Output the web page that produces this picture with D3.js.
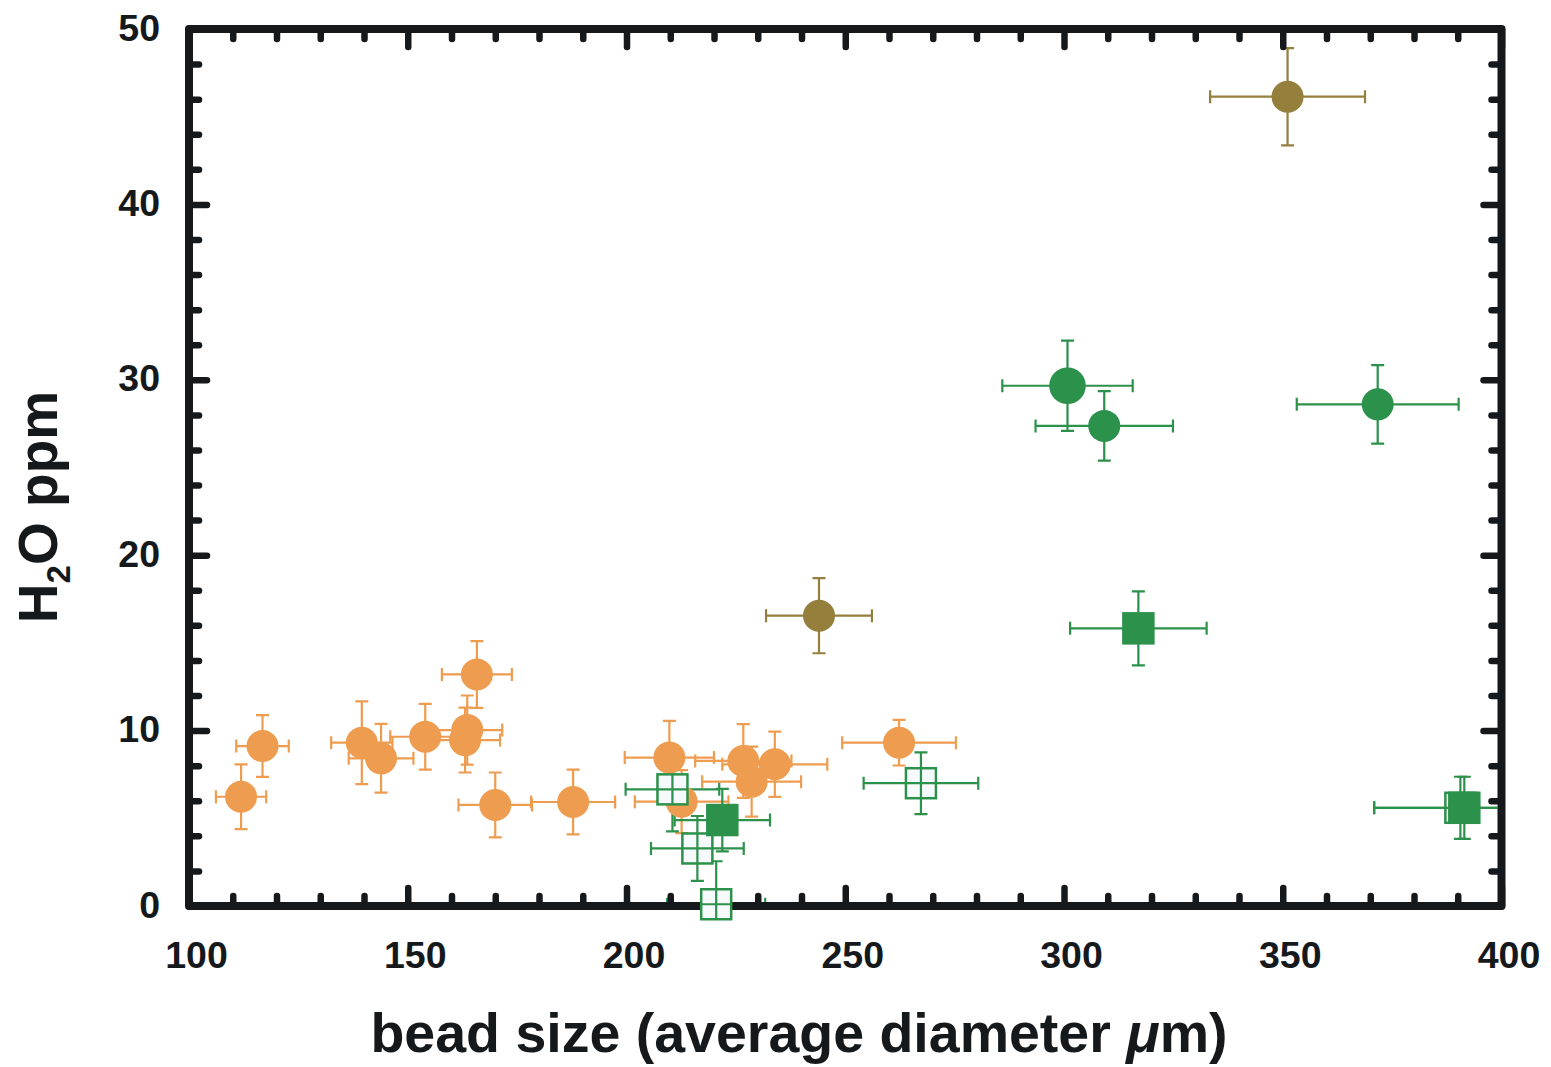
<!DOCTYPE html>
<html>
<head>
<meta charset="utf-8">
<script src="https://cdn.jsdelivr.net/npm/d3@7"></script>
<style>
  html, body { margin: 0; padding: 0; background: #ffffff; }
  svg { display: block; }
</style>
</head>
<body>
<svg id="chart" width="1551" height="1067"></svg>
<script>
// ---- data: bead size (µm) vs H2O (ppm), with ± errors ----
// orange circles
const orangeSize    = [165.8, 116.8, 111.9, 139.5, 143.9, 154.0, 163.6, 163.1, 170.0, 187.8, 209.8, 212.6, 226.7, 233.9, 228.6, 262.3];
const orangeH2O     = [13.2, 9.12, 6.23, 9.31, 8.42, 9.65, 10.03, 9.46, 5.76, 5.93, 8.46, 5.95, 8.27, 8.08, 7.09, 9.31];
const orangeSizeErr = [8.0, 6.0, 5.75, 7.0, 7.4, 8.0, 8.0, 8.0, 8.4, 9.6, 10.2, 10.7, 11.0, 12.0, 11.3, 13.0];
const orangeH2OErr  = [1.9, 1.76, 1.85, 2.36, 1.96, 1.87, 1.97, 1.85, 1.85, 1.85, 2.1, 1.8, 2.1, 1.86, 2.0, 1.3];

// olive circles
const oliveSize    = [244.0, 351.1];
const oliveH2O     = [16.55, 46.14];
const oliveSizeErr = [12.1, 17.7];
const oliveH2OErr  = [2.14, 2.77];

// green open squares
const openSqSize    = [210.5, 216.2, 220.5, 267.3, 390.6];
const openSqH2O     = [6.65, 3.28, 0.1, 7.0, 5.6];
const openSqSizeErr = [10.7, 10.6, 11.2, 13.1, 19.7];
const openSqH2OErr  = [2.4, 1.85, 2.45, 1.76, 1.77];

// green filled squares
const fillSqSize    = [221.9, 317.0, 391.5];
const fillSqH2O     = [4.90, 15.83, 5.6];
const fillSqSizeErr = [10.9, 15.6, 20.6];
const fillSqH2OErr  = [1.78, 2.11, 1.77];

// green filled circles
const greenSize    = [300.8, 309.2, 371.7];
const greenH2O     = [29.66, 27.37, 28.6];
const greenSizeErr = [14.9, 15.7, 18.5];
const greenH2OErr  = [2.57, 1.98, 2.24];
const greenRadius  = [18.3, 16, 16];

// axis ticks
const xMajorTicks = [100, 150, 200, 250, 300, 350, 400];
const xMinorTicks = d3.range(110, 400, 10).filter(v => v % 50 !== 0);
const yMajorTicks = [0, 10, 20, 30, 40, 50];
const yMinorTicks = d3.range(2, 50, 2).filter(v => v % 10 !== 0);

const xTitle = "bead size (average diameter ";
const xTitleUnitGreek = "μ";
const xTitleUnitRest = "m)";

// ---- drawing ----
const INK = "#16191c";
const ORANGE = "#ee9c4f";
const OLIVE = "#947f3c";
const GREEN = "#2c914a";
const FONT = "'Liberation Sans', Arial, Helvetica, sans-serif";

const svg = d3.select("#chart");
const plotLeft = 189, plotRight = 1501.5, plotTop = 29, plotBottom = 906;

const x = d3.scaleLinear().domain([100, 400]).range([plotLeft, plotRight]);
const y = d3.scaleLinear().domain([0, 50]).range([plotBottom, plotTop]);

// clip region for error bars: the inside of the frame
svg.append("defs").append("clipPath").attr("id", "plotClip")
  .append("rect")
  .attr("x", plotLeft + 4).attr("y", plotTop + 4)
  .attr("width", plotRight - plotLeft - 8).attr("height", plotBottom - plotTop - 8);

// layers: error bars sit under the frame and ticks, markers on top of everything
const barLayer = svg.append("g").attr("clip-path", "url(#plotClip)");
const axes = svg.append("g");
const markerLayer = svg.append("g");

// ticks on all four sides, pointing inward
function styleAxis(g) {
  g.select(".domain").remove();
  g.selectAll(".tick line")
    .attr("stroke", INK)
    .attr("stroke-width", 6.5)
    .attr("stroke-linecap", "round");
}

axes.append("g").attr("transform", `translate(0,${plotBottom})`)
  .call(d3.axisBottom(x).tickValues(xMinorTicks).tickSize(-10).tickFormat(""))
  .call(styleAxis);
axes.append("g").attr("transform", `translate(0,${plotTop})`)
  .call(d3.axisTop(x).tickValues(xMinorTicks).tickSize(-10).tickFormat(""))
  .call(styleAxis);
axes.append("g").attr("transform", `translate(0,${plotTop})`)
  .call(d3.axisTop(x).tickValues(xMajorTicks).tickSize(-18).tickFormat(""))
  .call(styleAxis);
axes.append("g").attr("transform", `translate(${plotLeft},0)`)
  .call(d3.axisLeft(y).tickValues(yMinorTicks).tickSize(-10).tickFormat(""))
  .call(styleAxis);
axes.append("g").attr("transform", `translate(${plotRight},0)`)
  .call(d3.axisRight(y).tickValues(yMinorTicks).tickSize(-10).tickFormat(""))
  .call(styleAxis);
axes.append("g").attr("transform", `translate(${plotRight},0)`)
  .call(d3.axisRight(y).tickValues(yMajorTicks).tickSize(-18).tickFormat(""))
  .call(styleAxis);

const xAxisG = axes.append("g").attr("transform", `translate(0,${plotBottom})`)
  .call(d3.axisBottom(x).tickValues(xMajorTicks).tickSize(-18).tickFormat(d3.format("d")))
  .call(styleAxis);
xAxisG.attr("font-family", FONT).attr("font-size", 37.5).attr("font-weight", "bold");
xAxisG.selectAll(".tick text")
  .attr("y", 62).attr("dy", null).attr("dx", 7)
  .attr("fill", INK);

const yAxisG = axes.append("g").attr("transform", `translate(${plotLeft},0)`)
  .call(d3.axisLeft(y).tickValues(yMajorTicks).tickSize(-18).tickFormat(d3.format("d")))
  .call(styleAxis);
yAxisG.attr("font-family", FONT).attr("font-size", 37.5).attr("font-weight", "bold");
yAxisG.selectAll(".tick text")
  .attr("x", -29).attr("y", 11).attr("dy", null)
  .attr("fill", INK);

// frame
axes.append("rect")
  .attr("x", plotLeft).attr("y", plotTop)
  .attr("width", plotRight - plotLeft).attr("height", plotBottom - plotTop)
  .attr("fill", "none")
  .attr("stroke", INK)
  .attr("stroke-width", 8)
  .attr("stroke-linejoin", "round");

// error bars with end caps
function errorBars(xs, ys, xe, ye, color) {
  const cap = 6.5;
  const eb = barLayer.append("g")
    .attr("stroke", color).attr("stroke-width", 2.2).attr("fill", "none");
  xs.forEach((xv, i) => {
    const cx = x(xv), cy = y(ys[i]);
    const x0 = x(xv - xe[i]), x1 = x(xv + xe[i]);
    const y0 = y(ys[i] - ye[i]), y1 = y(ys[i] + ye[i]);
    const p = d3.path();
    p.moveTo(x0, cy); p.lineTo(x1, cy);
    p.moveTo(cx, y0); p.lineTo(cx, y1);
    p.moveTo(x0, cy - cap); p.lineTo(x0, cy + cap);
    p.moveTo(x1, cy - cap); p.lineTo(x1, cy + cap);
    p.moveTo(cx - cap, y0); p.lineTo(cx + cap, y0);
    p.moveTo(cx - cap, y1); p.lineTo(cx + cap, y1);
    eb.append("path").attr("d", p.toString());
  });
}

function circleSeries(xs, ys, xe, ye, color, radii) {
  errorBars(xs, ys, xe, ye, color);
  markerLayer.append("g").selectAll("circle")
    .data(xs.map((v, i) => [v, ys[i], Array.isArray(radii) ? radii[i] : radii]))
    .join("circle")
    .attr("cx", d => x(d[0])).attr("cy", d => y(d[1]))
    .attr("r", d => d[2])
    .attr("fill", color);
}

function filledSquareSeries(xs, ys, xe, ye, color) {
  const s = 32.5;
  errorBars(xs, ys, xe, ye, color);
  markerLayer.append("g").selectAll("rect")
    .data(xs.map((v, i) => [v, ys[i]]))
    .join("rect")
    .attr("x", d => x(d[0]) - s / 2).attr("y", d => y(d[1]) - s / 2)
    .attr("width", s).attr("height", s)
    .attr("fill", color);
}

function openSquareSeries(xs, ys, xe, ye, color) {
  const s = 30;
  errorBars(xs, ys, xe, ye, color);
  const m = markerLayer.append("g").selectAll("g")
    .data(xs.map((v, i) => [v, ys[i]]))
    .join("g")
    .attr("transform", d => `translate(${x(d[0])},${y(d[1])})`);
  m.append("rect")
    .attr("x", -s / 2).attr("y", -s / 2)
    .attr("width", s).attr("height", s)
    .attr("fill", "#f7fafd")
    .attr("stroke", color).attr("stroke-width", 2.5);
  m.append("path")
    .attr("d", `M${-s / 2},0H${s / 2}M0,${-s / 2}V${s / 2}`)
    .attr("stroke", color).attr("stroke-width", 2.2);
}

circleSeries(orangeSize, orangeH2O, orangeSizeErr, orangeH2OErr, ORANGE, 16);
circleSeries(oliveSize, oliveH2O, oliveSizeErr, oliveH2OErr, OLIVE, 16);
openSquareSeries(openSqSize, openSqH2O, openSqSizeErr, openSqH2OErr, GREEN);
filledSquareSeries(fillSqSize, fillSqH2O, fillSqSizeErr, fillSqH2OErr, GREEN);
circleSeries(greenSize, greenH2O, greenSizeErr, greenH2OErr, GREEN, greenRadius);

// axis titles
const xt = svg.append("text")
  .attr("x", 799).attr("y", 1052)
  .attr("text-anchor", "middle")
  .attr("font-family", FONT).attr("font-size", 55.5).attr("font-weight", "bold")
  .attr("fill", INK);
xt.append("tspan").text(xTitle);
xt.append("tspan").attr("font-style", "italic").text(xTitleUnitGreek);
xt.append("tspan").text(xTitleUnitRest);

const yt = svg.append("text")
  .attr("transform", "translate(57,507) rotate(-90)")
  .attr("text-anchor", "middle")
  .attr("font-family", FONT).attr("font-size", 55).attr("font-weight", "bold")
  .attr("fill", INK);
yt.append("tspan").text("H");
yt.append("tspan").attr("font-size", 33).attr("dy", 13).text("2");
yt.append("tspan").attr("dy", -13).text("O ppm");
</script>
</body>
</html>
